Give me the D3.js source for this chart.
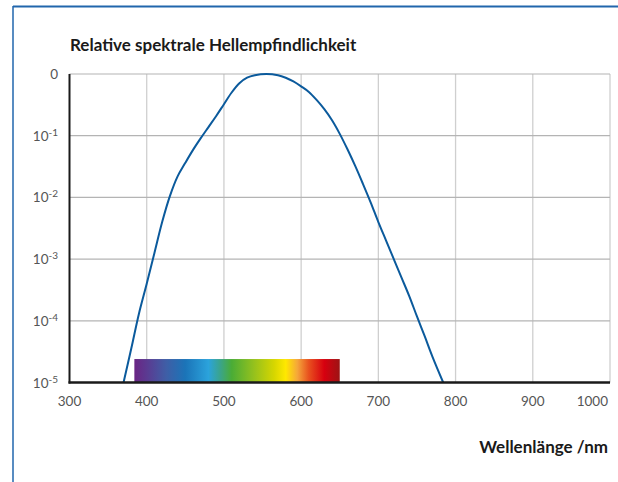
<!DOCTYPE html>
<html><head><meta charset="utf-8">
<script src="https://cdn.jsdelivr.net/npm/d3@7"></script>
<style>body{margin:0;background:#fff;} svg{display:block;font-family:Lato,"Open Sans",sans-serif;}</style>
</head><body>
<svg id="c" width="618" height="482"></svg>
<script>
// data
const wavelength = [370,380,390,400,410,420,430,440,450,460,470,480,490,500,510,520,530,540,555,570,580,590,600,610,620,630,640,650,660,670,680,690,700,710,720,730,740,750,760,770,784];
const logV =       [-5.0,-4.45,-3.88,-3.4,-2.9,-2.4,-1.98,-1.66,-1.44,-1.23,-1.04,-0.86,-0.68,-0.49,-0.30,-0.15,-0.06,-0.02,0,-0.02,-0.06,-0.12,-0.2,-0.29,-0.42,-0.57,-0.75,-0.97,-1.22,-1.49,-1.78,-2.08,-2.4,-2.7,-3.0,-3.3,-3.6,-3.93,-4.25,-4.58,-5.0];
const xTicks = [300,400,500,600,700,800,900,1000];
const yTickExp = [0,-1,-2,-3,-4,-5];
const spectrumRange = [384,650];
const spectrumTop = 2.4e-5;
const spectrumStopsNm = [384,400,425,450,480,495,510,540,565,580,595,610,630,650];
const spectrumColors = ["#6a2584","#5b3a91","#3f5ea6","#1b74b8","#2ba3dc","#3aa48c","#4aac36","#98c21c","#d6d600","#ffe800","#f5a73a","#e8501e","#d7000f","#9c1414"];
const title = "Relative spektrale Hellempfindlichkeit";
const xTitle = "Wellenlänge /nm";

const svg = d3.select("#c");
const L=69.5, R=610, T=74, B=382.5;
const x = d3.scaleLinear().domain([300,1000]).range([L,R]);
const y = d3.scaleLog().domain([1e-5,1]).range([B,T]);

// frame
svg.append("line").attr("x1",13).attr("x2",618).attr("y1",6.5).attr("y2",6.5).attr("stroke","#2166ac").attr("stroke-width",2);
svg.append("line").attr("x1",13).attr("x2",13).attr("y1",6).attr("y2",482).attr("stroke","#2166ac").attr("stroke-width",1.5);

// grid
svg.append("g").selectAll("line").data(xTicks.slice(1)).join("line")
  .attr("x1",d=>x(d)).attr("x2",d=>x(d)).attr("y1",T).attr("y2",B)
  .attr("stroke","#cfcfcf").attr("stroke-width",1.3);
svg.append("g").selectAll("line").data(yTickExp.slice(0,-1)).join("line")
  .attr("x1",L).attr("x2",R).attr("y1",d=>y(10**d)).attr("y2",d=>y(10**d))
  .attr("stroke","#b4b4b4").attr("stroke-width",1.2);

// spectrum bar
const defs = svg.append("defs");
const grad = defs.append("linearGradient").attr("id","spec").attr("x1","0%").attr("x2","100%");
spectrumStopsNm.forEach((nm,i)=>grad.append("stop")
  .attr("offset",((nm-spectrumRange[0])/(spectrumRange[1]-spectrumRange[0])*100)+"%")
  .attr("stop-color",spectrumColors[i]));
svg.append("rect").attr("x",x(spectrumRange[0])).attr("width",x(spectrumRange[1])-x(spectrumRange[0]))
  .attr("y",y(spectrumTop)).attr("height",B-y(spectrumTop)).attr("fill","url(#spec)");

// curve
const pts = wavelength.map((w,i)=>[w,10**logV[i]]);
svg.append("path").datum(pts)
  .attr("d",d3.line().x(d=>x(d[0])).y(d=>y(d[1])).curve(d3.curveCatmullRom.alpha(0.5)))
  .attr("fill","none").attr("stroke","#0b5a9c").attr("stroke-width",2);

// axes lines
svg.append("line").attr("x1",L).attr("x2",L).attr("y1",T).attr("y2",B+1).attr("stroke","#1a1a1a").attr("stroke-width",2);
svg.append("line").attr("x1",L-1).attr("x2",R).attr("y1",B).attr("y2",B).attr("stroke","#1a1a1a").attr("stroke-width",2.5);

// x tick labels
svg.append("g").selectAll("text").data(xTicks).join("text")
  .attr("x",d=>d===1000?x(d)-2:x(d)).attr("y",406)
  .attr("text-anchor",d=>d===1000?"end":"middle")
  .attr("font-size",13.5).attr("fill","#555").text(d=>d);

// y tick labels
const yl = svg.append("g").selectAll("text").data(yTickExp).join("text")
  .attr("x",58).attr("y",d=>y(10**d)+5).attr("text-anchor","end")
  .attr("font-size",13.5).attr("fill","#555");
yl.each(function(d){
  const t=d3.select(this);
  if(d===0){t.text("0");}
  else{
    t.append("tspan").text("10");
    t.append("tspan").attr("dy",-5).attr("font-size",10).text("-"+(-d));
  }
});

// titles
svg.append("text").attr("x",70).attr("y",51).attr("font-size",17).attr("font-weight","bold").attr("fill","#1a1a1a").text(title);
svg.append("text").attr("x",608).attr("y",453).attr("text-anchor","end").attr("font-size",17).attr("font-weight","bold").attr("fill","#1a1a1a").text(xTitle);
</script>
</body></html>
